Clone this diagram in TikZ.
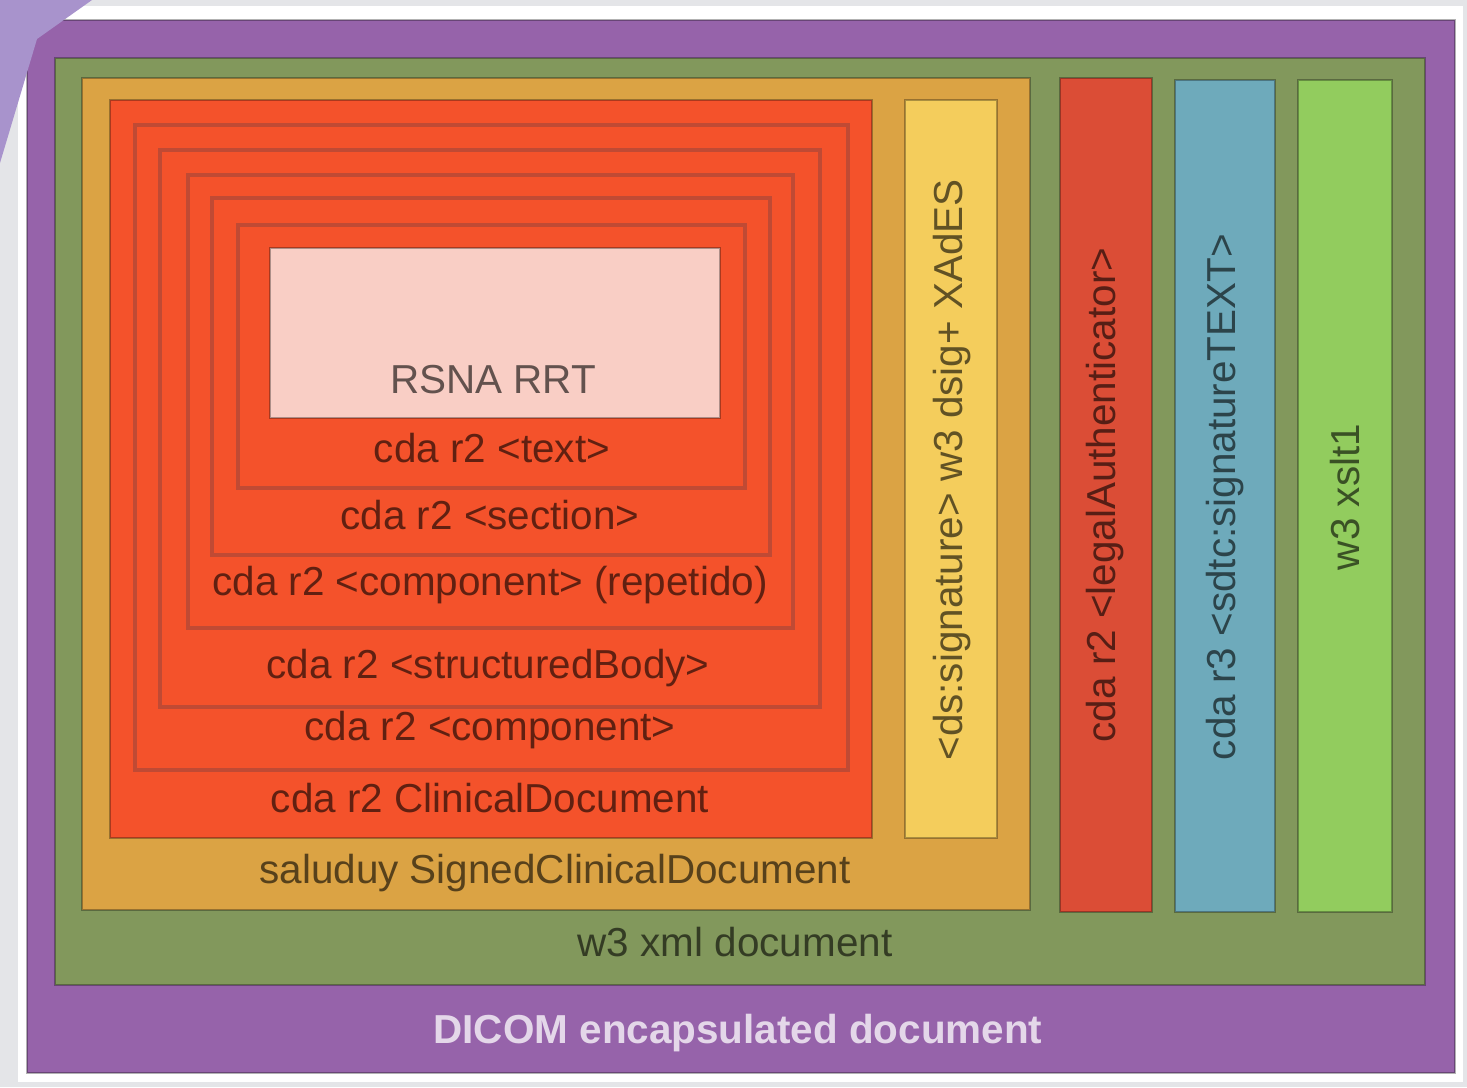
\documentclass[tikz,border=0pt]{standalone}
\usepackage{fontspec}
\setmainfont{Liberation Sans}
\definecolor{pagegray}{HTML}{E4E5E8}
\definecolor{cornerlav}{HTML}{A893CC}
\definecolor{dicompurple}{HTML}{9663AA}
\definecolor{xmlgreen}{HTML}{82985C}
\definecolor{signedorange}{HTML}{DBA344}
\definecolor{cdared}{HTML}{F4522B}
\definecolor{nestred}{HTML}{C04A34}
\definecolor{rsnapink}{HTML}{F9CEC5}
\definecolor{dsigyellow}{HTML}{F4CD5C}
\definecolor{legalred}{HTML}{DB4D36}
\definecolor{sdtcblue}{HTML}{6EAABB}
\definecolor{xsltgreen}{HTML}{92CC5E}
\newcommand{\lblfont}{\fontsize{11.5}{13}\selectfont}
\tikzset{
  box/.style={draw=black, draw opacity=0.3, line width=0.7pt},
  nestbox/.style={draw=nestred, line width=0.9pt},
  lbl/.style={font=\lblfont, text=black, text opacity=0.6, inner sep=0pt},
  vlbl/.style={lbl, rotate=90}
}
\begin{document}
\begin{tikzpicture}[x=0.01cm, y=-0.01cm]
		\useasboundingbox (0,0) rectangle (1467,1087);
		\fill[pagegray] (0,0) rectangle (1467,1087);
		\fill[white] (18,6) rectangle (1463,1082);
		% outer layers
		\filldraw[box, fill=dicompurple] (27,20) rectangle (1455,1073);
		\filldraw[box, fill=xmlgreen] (55,58) rectangle (1425,985);
		\filldraw[box, fill=signedorange] (82,78) rectangle (1030,910);
		\filldraw[box, fill=cdared] (110,100) rectangle (872,838);
		\filldraw[box, fill=dsigyellow] (905,100) rectangle (997,838);
		\filldraw[box, fill=legalred] (1060,78) rectangle (1152,912);
		\filldraw[box, fill=sdtcblue] (1175,80) rectangle (1275,912);
		\filldraw[box, fill=xsltgreen] (1298,80) rectangle (1392,912);
		% nested cda boxes
		\draw[nestbox] (135,125) rectangle (848,770);
		\draw[nestbox] (160,150) rectangle (820,707);
		\draw[nestbox] (188,175) rectangle (793,628);
		\draw[nestbox] (212,198) rectangle (770,555);
		\draw[nestbox] (238,225) rectangle (745,488);
		\filldraw[box, fill=rsnapink] (270,248) rectangle (720,418);
		% corner tab
		\fill[cornerlav] (0,0) -- (92,0) -- (37,39) -- (0,163) -- cycle;
		\node[lbl] (rsna) at (493,380) {RSNA RRT};
		\node[lbl] (txt) at (492,448) {cda r2 <text>};
		\node[lbl] (sect) at (490,515) {cda r2 <section>};
		\node[lbl] (comprep) at (490,585) {cda r2 <component> (repetido)};
		\node[lbl] (body) at (488,668) {cda r2 <structuredBody>};
		\node[lbl] (comp) at (490,730) {cda r2 <component>};
		\node[lbl] (clindoc) at (490,798) {cda r2 ClinicalDocument};
		\node[lbl] (signed) at (555,873) {saluduy SignedClinicalDocument};
		\node[lbl] (xmldoc) at (735,942) {w3 xml document};
		\node[lbl, text=white, text opacity=0.75, font=\lblfont\bfseries] (dicom) at (738,1033) {DICOM encapsulated document};
		\node[vlbl] (dsig) at (952,470) {<ds:signature> w3 dsig+ XAdES};
		\node[vlbl] (legal) at (1105,495) {cda r2 <legalAuthenticator>};
		\node[vlbl] (sdtc) at (1225,497) {cda r3 <sdtc:signatureTEXT>};
		\node[vlbl] (xslt) at (1345,497) {w3 xslt1};
	\end{tikzpicture}
\end{document}
